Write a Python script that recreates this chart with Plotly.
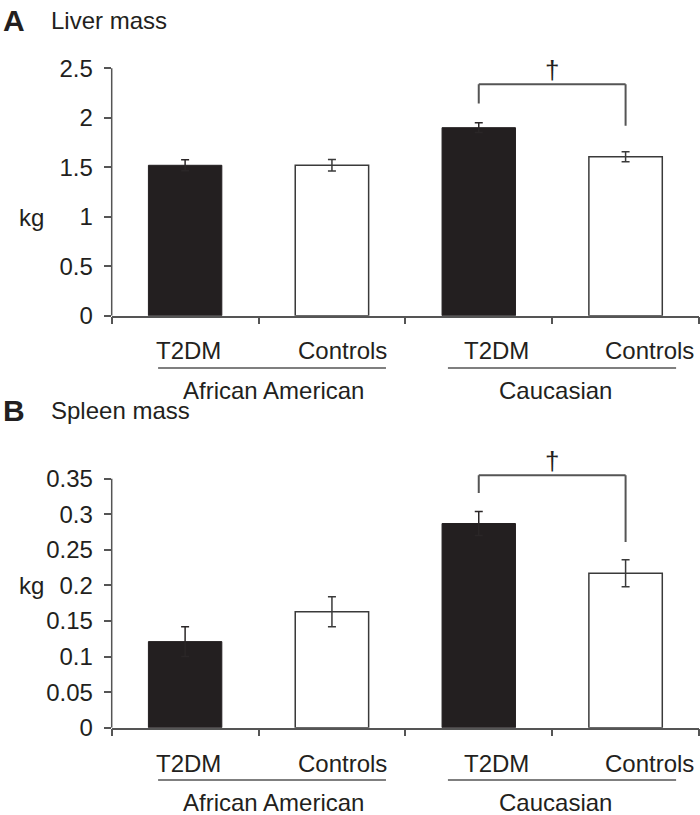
import plotly.graph_objects as go

# ---------------- data ----------------
groups = ["African American", "Caucasian"]
conditions = ["T2DM", "Controls"]
tick_vals_liver = [0, 0.5, 1, 1.5, 2, 2.5]
tick_text_liver = ["0", "0.5", "1", "1.5", "2", "2.5"]
tick_vals_spleen = [0, 0.05, 0.1, 0.15, 0.2, 0.25, 0.3, 0.35]
tick_text_spleen = ["0", "0.05", "0.1", "0.15", "0.2", "0.25", "0.3", "0.35"]

liver_t2dm = [1.52, 1.90]
liver_t2dm_err = [0.055, 0.05]
liver_ctrl = [1.52, 1.606]
liver_ctrl_err = [0.058, 0.05]

spleen_t2dm = [0.121, 0.287]
spleen_t2dm_err = [0.021, 0.017]
spleen_ctrl = [0.163, 0.217]
spleen_ctrl_err = [0.021, 0.019]

# significance brackets: [top, left-leg bottom, right-leg bottom]
liver_bracket = [2.34, 2.145, 1.92]
spleen_bracket = [0.355, 0.33, 0.261]

# ---------------- style ----------------
FONT = "Liberation Sans, Arial, Helvetica, sans-serif"
INK = "#231f20"
LINE = "#555555"
W, H = 700, 815
X0PX, X1PX = 111.7, 699.0
xdom = [X0PX / W, X1PX / W]
LABEL_SIZE = 24
TICK_SIZE = 24

fig = go.Figure()

panels = [
    dict(t2=liver_t2dm, t2e=liver_t2dm_err, c=liver_ctrl, ce=liver_ctrl_err,
         br=liver_bracket, xa="x", ya="y", yname="yaxis", xname="xaxis",
         zero_px=315.7, top_px=68.3, vmax=2.5, vtop=2.6,
         tv=tick_vals_liver, tt=tick_text_liver,
         letter="A", title="Liver mass", title_px=21, kg_px=217,
         lab_px=351, ul_px=368, grp_px=390),
    dict(t2=spleen_t2dm, t2e=spleen_t2dm_err, c=spleen_ctrl, ce=spleen_ctrl_err,
         br=spleen_bracket, xa="x2", ya="y2", yname="yaxis2", xname="xaxis2",
         zero_px=727.7, top_px=478.7, vmax=0.35, vtop=0.37,
         tv=tick_vals_spleen, tt=tick_text_spleen,
         letter="B", title="Spleen mass", title_px=410, kg_px=585,
         lab_px=763, ul_px=780, grp_px=802),
]

label_offsets = [0.02, 0.07, 0.12, 0.16]
underline_spans = [(-0.184, 1.368), (1.79, 3.344)]
group_centers = [0.60, 2.52]

annotations = []
shapes = []

for p in panels:
    xs_t2 = [2 * g for g in range(len(groups))]
    xs_c = [2 * g + 1 for g in range(len(groups))]
    fig.add_trace(go.Bar(
        x=xs_t2, y=p["t2"], width=0.5, xaxis=p["xa"], yaxis=p["ya"],
        marker=dict(color=INK, line=dict(color=INK, width=1)),
        error_y=dict(type="data", array=p["t2e"], color="#2a2627",
                     thickness=1.5, width=4),
        showlegend=False, hoverinfo="skip"))
    fig.add_trace(go.Bar(
        x=xs_c, y=p["c"], width=0.5, xaxis=p["xa"], yaxis=p["ya"],
        marker=dict(color="white", line=dict(color="#3a3a3a", width=1.5)),
        error_y=dict(type="data", array=p["ce"], color="#3a3a3a",
                     thickness=1.5, width=4),
        showlegend=False, hoverinfo="skip"))

    # axis geometry
    ppu = (p["zero_px"] - p["top_px"]) / p["vmax"]
    top_px_ext = p["zero_px"] - ppu * p["vtop"]
    ydom = [1 - p["zero_px"] / H, 1 - top_px_ext / H]
    fig.update_layout(**{
        p["xname"]: dict(domain=xdom, range=[-0.5, 3.5], anchor=p["ya"],
                         tickvals=[-0.5, 0.5, 1.5, 2.5, 3.5],
                         ticks="outside", ticklen=7, tickwidth=1.5,
                         tickcolor=LINE, showticklabels=False,
                         showline=True, linecolor=LINE, linewidth=1.5,
                         showgrid=False, zeroline=False, fixedrange=True,
                         automargin=False),
        p["yname"]: dict(domain=ydom, range=[0, p["vtop"]], anchor=p["xa"],
                         tickvals=p["tv"], ticktext=p["tt"],
                         ticks="outside", ticklen=7, tickwidth=1.5,
                         tickcolor=LINE, ticklabelstandoff=6,
                         tickfont=dict(family=FONT, size=TICK_SIZE, color=INK),
                         showline=False, showgrid=False, zeroline=False,
                         fixedrange=True, automargin=False),
    })
    # y axis line up to the top tick only
    shapes.append(dict(type="line", xref="paper", yref=p["ya"],
                       x0=xdom[0], x1=xdom[0], y0=0, y1=p["vmax"],
                       line=dict(color=LINE, width=1.5)))

    # significance bracket between Caucasian T2DM and Controls
    top, lb, rb = p["br"]
    xl, xr = xs_t2[1], xs_c[1]
    for (a, b, c, d) in [(xl, lb, xl, top), (xl, top, xr, top), (xr, top, xr, rb)]:
        shapes.append(dict(type="line", xref=p["xa"], yref=p["ya"],
                           x0=a, y0=b, x1=c, y1=d,
                           line=dict(color=LINE, width=2)))
    annotations.append(dict(text="†", x=(xl + xr) / 2, y=top, xref=p["xa"],
                            yref=p["ya"], yanchor="bottom", showarrow=False,
                            yshift=-3, font=dict(family=FONT, size=26, color=INK)))

    # category labels
    for i in range(4):
        annotations.append(dict(text=conditions[i % 2], x=i + label_offsets[i],
                                y=1 - p["lab_px"] / H, xref=p["xa"], yref="paper",
                                yanchor="middle", showarrow=False,
                                font=dict(family=FONT, size=LABEL_SIZE, color=INK)))
    for g in range(len(groups)):
        x0, x1 = underline_spans[g]
        shapes.append(dict(type="line", xref=p["xa"], yref="paper",
                           x0=x0, x1=x1, y0=1 - p["ul_px"] / H, y1=1 - p["ul_px"] / H,
                           line=dict(color=LINE, width=1.5)))
        annotations.append(dict(text=groups[g], x=group_centers[g],
                                y=1 - p["grp_px"] / H, xref=p["xa"], yref="paper",
                                yanchor="middle", showarrow=False,
                                font=dict(family=FONT, size=LABEL_SIZE, color=INK)))

    # panel letter, title, unit
    annotations.append(dict(text="<b>" + p["letter"] + "</b>", x=1 / W,
                            y=1 - p["title_px"] / H, xref="paper", yref="paper",
                            xanchor="left", yanchor="middle", showarrow=False,
                            font=dict(family=FONT, size=30, color=INK)))
    annotations.append(dict(text=p["title"], x=49 / W, y=1 - p["title_px"] / H,
                            xref="paper", yref="paper", xanchor="left",
                            yanchor="middle", showarrow=False,
                            font=dict(family=FONT, size=LABEL_SIZE, color=INK)))
    annotations.append(dict(text="kg", x=17 / W, y=1 - p["kg_px"] / H,
                            xref="paper", yref="paper", xanchor="left",
                            yanchor="middle", showarrow=False,
                            font=dict(family=FONT, size=LABEL_SIZE, color=INK)))

fig.update_layout(
    width=W, height=H,
    margin=dict(l=0, r=0, t=0, b=0, pad=0, autoexpand=False),
    paper_bgcolor="white", plot_bgcolor="white",
    barmode="overlay", showlegend=False,
    annotations=annotations, shapes=shapes,
    font=dict(family=FONT, color=INK),
)

fig.write_html("out.html", config={"displayModeBar": False},
               post_script="document.body.style.margin='0';"
                           "document.body.style.overflow='hidden';")
